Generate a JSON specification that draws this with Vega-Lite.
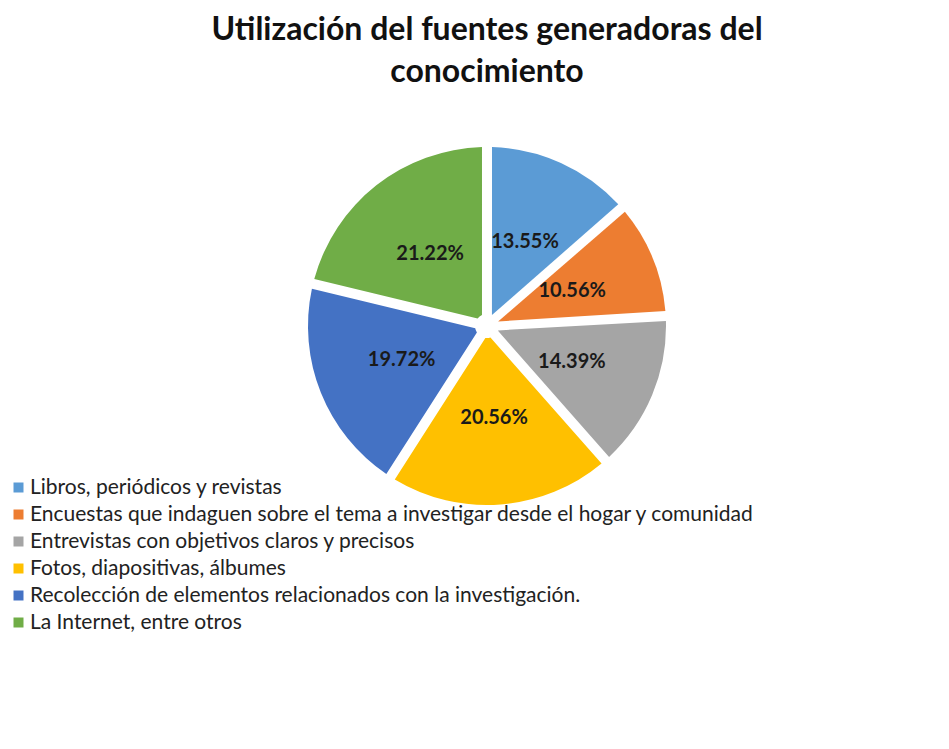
{
  "$schema": "https://vega.github.io/schema/vega-lite/v6.json",
  "width": 352,
  "height": 352,
  "autosize": "none",
  "padding": {"left": 311, "top": 150, "right": 286, "bottom": 247},
  "background": "white",
  "title": {
    "text": ["Utilización del fuentes generadoras del", "conocimiento"],
    "font": "Lato",
    "fontSize": 32,
    "fontWeight": "bold",
    "color": "#111111",
    "lineHeight": 42,
    "anchor": "middle",
    "offset": 58
  },
  "data": {
    "values": [
      {"fuente": "Libros, periódicos y revistas", "valor": 0.1355, "orden": 1},
      {"fuente": "Encuestas que indaguen sobre el tema a investigar desde el hogar y comunidad", "valor": 0.1056, "orden": 2},
      {"fuente": "Entrevistas con objetivos claros y precisos", "valor": 0.1439, "orden": 3},
      {"fuente": "Fotos, diapositivas, álbumes", "valor": 0.2056, "orden": 4},
      {"fuente": "Recolección de elementos relacionados con la investigación.", "valor": 0.1972, "orden": 5},
      {"fuente": "La Internet, entre otros", "valor": 0.2122, "orden": 6}
    ]
  },
  "encoding": {
    "theta": {"field": "valor", "type": "quantitative", "stack": true},
    "order": {"field": "orden", "type": "quantitative"}
  },
  "layer": [
    {
      "mark": {"type": "arc", "outerRadius": 179, "innerRadius": 12, "padAngle": 0.056},
      "encoding": {
        "color": {
          "field": "fuente",
          "type": "nominal",
          "sort": [
            "Libros, periódicos y revistas",
            "Encuestas que indaguen sobre el tema a investigar desde el hogar y comunidad",
            "Entrevistas con objetivos claros y precisos",
            "Fotos, diapositivas, álbumes",
            "Recolección de elementos relacionados con la investigación.",
            "La Internet, entre otros"
          ],
          "scale": {
            "domain": [
              "Libros, periódicos y revistas",
              "Encuestas que indaguen sobre el tema a investigar desde el hogar y comunidad",
              "Entrevistas con objetivos claros y precisos",
              "Fotos, diapositivas, álbumes",
              "Recolección de elementos relacionados con la investigación.",
              "La Internet, entre otros"
            ],
            "range": ["#5B9BD5", "#ED7D31", "#A5A5A5", "#FFC000", "#4472C4", "#70AD47"]
          },
          "legend": {
            "title": null,
            "orient": "none",
            "legendX": -303,
            "legendY": 327,
            "padding": 0,
            "symbolType": "square",
            "symbolSize": 100,
            "symbolStrokeWidth": 0,
            "labelFont": "Lato",
            "labelFontSize": 21,
            "labelColor": "#222222",
            "labelOffset": 1,
            "labelLimit": 900,
            "rowPadding": 5
          }
        }
      }
    },
    {
      "mark": {"type": "text", "radius": 92, "font": "Lato", "fontSize": 20, "fontWeight": "bold", "color": "#1a1a1a"},
      "encoding": {
        "text": {"field": "valor", "type": "quantitative", "format": ".2%"}
      }
    }
  ],
  "config": {"view": {"stroke": null}}
}
